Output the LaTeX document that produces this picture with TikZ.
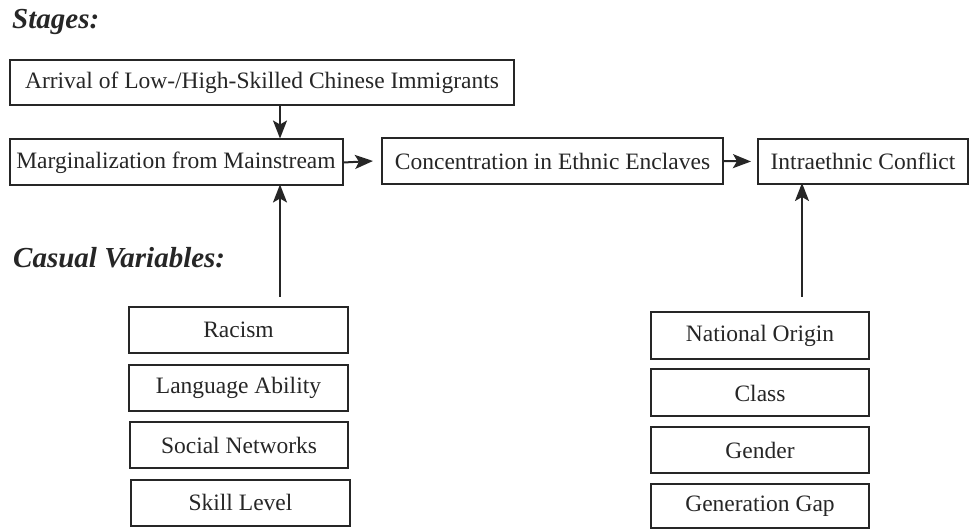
\documentclass[tikz,border=0pt]{standalone}
\usepackage{fontspec}
\setmainfont{Liberation Serif}
\usetikzlibrary{arrows.meta}
\begin{document}
\begin{tikzpicture}[x=1pt,y=-1pt,
  box/.style={draw=black!85, line width=2pt, inner sep=0pt, anchor=center,
    font=\fontsize{23.5}{28}\selectfont, text=black!85},
  conn/.style={draw=black!85, line width=2pt, -{Stealth[length=18pt,width=14pt,inset=4pt]}},
  head/.style={font=\fontsize{29}{32}\selectfont\bfseries\itshape, text=black!85, anchor=base west, inner sep=0pt}]
\useasboundingbox (0,0) rectangle (970,529);
\node[head] (stages) at (12,29) {Stages:};
\node[head] (casual) at (13,268) {Casual Variables:};
\node[box, minimum width=504pt, minimum height=45pt] (arr) at (262,82.5) {Arrival of Low-/High-Skilled Chinese Immigrants};
\node[box, minimum width=333pt, minimum height=46pt] (marg) at (176,162.5) {Marginalization from Mainstream};
\node[box, minimum width=341pt, minimum height=46pt] (conc) at (552.5,161) {Concentration in Ethnic Enclaves};
\node[box, minimum width=210pt, minimum height=45pt] (intra) at (863,161.5) {Intraethnic Conflict};
\node[box, minimum width=219pt, minimum height=46pt] (rac) at (238.5,330) {Racism};
\node[box, minimum width=219pt, minimum height=46pt] (lang) at (238.5,388) {Language Ability};
\node[box, minimum width=218pt, minimum height=46pt] (soc) at (239,445) {Social Networks};
\node[box, minimum width=219pt, minimum height=46pt] (skill) at (240.5,502.5) {Skill Level};
\node[box, minimum width=218pt, minimum height=47pt] (nat) at (760,335.5) {National Origin};
\node[box, minimum width=218pt, minimum height=47pt] (cls) at (760,393) {Class};
\node[box, minimum width=218pt, minimum height=46pt] (gen) at (760,450) {Gender};
\node[box, minimum width=218pt, minimum height=44pt] (gap) at (760,506) {Generation Gap};
\coordinate (ls) at (280,297);
\coordinate (rs) at (802,297);
\draw[conn] (arr.south -| 280,0) -- (marg.north -| 280,0);
\draw[conn] (marg.east) -- ([xshift=-8pt]conc.west);
\draw[conn] (conc.east) -- ([xshift=-6pt]intra.west);
\draw[conn] (ls) -- ([yshift=2pt]marg.south -| ls);
\draw[conn] (rs) -- ([yshift=2pt]intra.south -| rs);
\end{tikzpicture}
\end{document}
